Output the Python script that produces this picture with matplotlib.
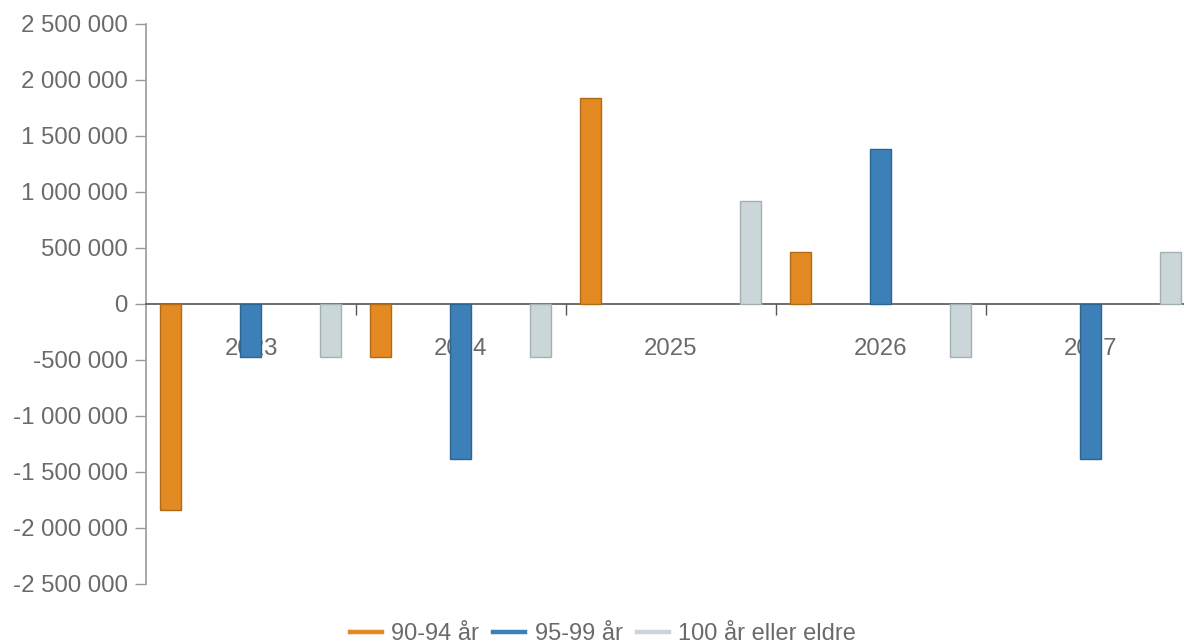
import matplotlib
matplotlib.use("Agg")
import matplotlib.pyplot as plt
from matplotlib.lines import Line2D
from matplotlib.ticker import FuncFormatter, FixedLocator
import numpy as np

years = ["2023", "2024", "2025", "2026", "2027"]
series_names = ["90-94 år", "95-99 år", "100 år eller eldre"]
v_90_94 = [-1840000, -470000, 1840000, 460000, 0]
v_95_99 = [-470000, -1380000, 0, 1380000, -1380000]
v_100 = [-470000, -470000, 920000, -470000, 460000]
y_ticks = [-2500000, -2000000, -1500000, -1000000, -500000, 0,
           500000, 1000000, 1500000, 2000000, 2500000]

fills = ["#E38A22", "#3D80B8", "#CBD6D8"]
edges = ["#B06B16", "#2B6592", "#A4B1B4"]

plt.rcParams['font.family'] = ['Liberation Sans', 'DejaVu Sans']
plt.rcParams['axes.unicode_minus'] = False

W, H = 1184, 644
fig = plt.figure(figsize=(W / 100, H / 100), dpi=100)
left_px, right_px, top_px, bot_px = 146, 1184, 24, 584
ax = fig.add_axes([left_px / W, (H - bot_px) / H, (right_px - left_px) / W, (bot_px - top_px) / H])

x = np.arange(len(years))
offset = 80 / 210
width = 21 / 210
for k, vals in enumerate([v_90_94, v_95_99, v_100]):
    bars = ax.bar(x + (k - 1) * offset, vals, width=width, color=fills[k],
                  edgecolor=edges[k], linewidth=1.0, zorder=3)
    for b, v in zip(bars, vals):
        if v == 0:
            b.set_visible(False)

ax.set_xlim(-0.5, 4.5 - 0.057)
ax.set_ylim(-2500000, 2500000)

ax.yaxis.set_major_locator(FixedLocator(y_ticks))
ax.yaxis.set_major_formatter(FuncFormatter(lambda v, p: f"{int(round(v)):,}".replace(",", " ")))
ax.tick_params(axis='y', length=8, width=1, color='#999999', labelcolor='#6a6a6a',
               labelsize=17.3, pad=5)

ax.spines['top'].set_visible(False)
ax.spines['right'].set_visible(False)
ax.spines['left'].set_color('#999999')
ax.spines['left'].set_linewidth(1.2)
ax.spines['bottom'].set_position(('data', 0))
ax.spines['bottom'].set_color('#555555')
ax.spines['bottom'].set_linewidth(1.2)
ax.spines['bottom'].set_zorder(2.5)

ax.set_xticks(x[:-1] + 0.5)
ax.set_xticklabels([])
ax.tick_params(axis='x', which='major', length=8, width=1, color='#555555', direction='out')
ax.set_xticks(x, minor=True)
ax.set_xticklabels(years, minor=True)
ax.tick_params(axis='x', which='minor', length=0, labelcolor='#6a6a6a', labelsize=17.3, pad=24.5)

handles = [Line2D([0], [0], color=fills[k], lw=3.2) for k in range(3)]
fig.legend(handles, series_names, loc='center', bbox_to_anchor=(603 / W, 10 / H),
           ncol=3, frameon=False, fontsize=17, labelcolor='#6a6a6a',
           handlelength=1.35, handletextpad=0.4, columnspacing=0.6)

fig.savefig("out.png", dpi=100, facecolor='white')
